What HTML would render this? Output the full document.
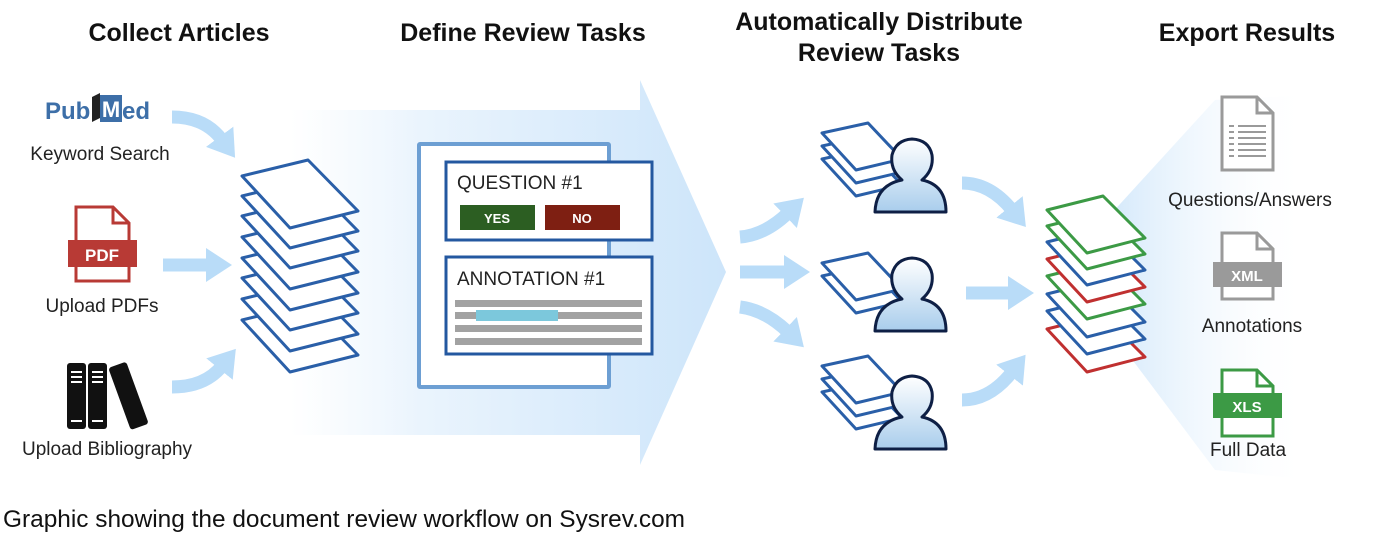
<!DOCTYPE html>
<html><head><meta charset="utf-8"><style>
html,body{margin:0;padding:0;background:#fff;}
svg{display:block;font-family:"Liberation Sans",Arial,sans-serif;}
</style></head><body>
<svg width="1396" height="549" viewBox="0 0 1396 549" xmlns="http://www.w3.org/2000/svg">
<defs>
<linearGradient id="big" x1="0" x2="1" y1="0" y2="0">
<stop offset="0" stop-color="#eef6fd" stop-opacity="0"/>
<stop offset="0.3" stop-color="#eaf4fd"/>
<stop offset="1" stop-color="#cde5fa"/>
</linearGradient>
<linearGradient id="fan" x1="0" x2="1" y1="0" y2="0">
<stop offset="0" stop-color="#cfe6fa"/>
<stop offset="1" stop-color="#ffffff" stop-opacity="0"/>
</linearGradient>
<linearGradient id="person" x1="0" x2="0" y1="0" y2="1">
<stop offset="0" stop-color="#ffffff"/>
<stop offset="1" stop-color="#a9cdec"/>
</linearGradient>
<marker id="ah" markerUnits="userSpaceOnUse" markerWidth="40" markerHeight="40" refX="4" refY="20" orient="auto">
<path d="M0,3 L26,20 L0,37 Z" fill="#b9dcf8"/>
</marker>
<path id="sheetL" d="M0,0 L66,-16 L116,35 L48,52 Z"/>
<path id="sheetS" d="M0,0 L46,-10 L80,26 L34,37 Z"/>
<path id="sheetR" d="M0,0 L56,-14 L98,28 L40,43 Z"/>
</defs>

<g font-weight="bold" font-size="25" fill="#111" text-anchor="middle">
<text x="179" y="41">Collect Articles</text>
<text x="523" y="41">Define Review Tasks</text>
<text x="879" y="30">Automatically Distribute</text>
<text x="879" y="61">Review Tasks</text>
<text x="1247" y="41">Export Results</text>
</g>

<path d="M290,110 L640,110 L640,80 L726,272 L640,465 L640,435 L290,435 Z" fill="url(#big)"/>

<path d="M1110,215 L1215,100 L1310,95 L1310,480 L1215,470 L1110,330 Z" fill="url(#fan)" opacity="0.9"/>

<g fill="none" stroke="#b9dcf8" stroke-width="13">
<path d="M172,117 Q205,117 222,140" marker-end="url(#ah)"/>
<path d="M163,265 L210,265" marker-end="url(#ah)"/>
<path d="M172,387 Q205,387 222,366" marker-end="url(#ah)"/>
<path d="M740,237 Q765,235 788,213" marker-end="url(#ah)"/>
<path d="M740,272 L788,272" marker-end="url(#ah)"/>
<path d="M740,307 Q765,310 788,332" marker-end="url(#ah)"/>
<path d="M962,183 Q990,183 1012,210" marker-end="url(#ah)"/>
<path d="M966,293 L1012,293" marker-end="url(#ah)"/>
<path d="M962,400 Q990,400 1012,372" marker-end="url(#ah)"/>
</g>

<!-- PubMed -->
<text x="45" y="119" font-size="24" font-weight="bold" fill="#3d6fa8">Pub</text>
<path d="M92,97 L100,93 L100,118 L92,122 Z" fill="#222"/>
<rect x="100" y="95" width="22" height="27" fill="#3d6fa8"/>
<text x="111" y="117" font-size="22" font-weight="bold" fill="#fff" text-anchor="middle">M</text>
<text x="122" y="119" font-size="24" font-weight="bold" fill="#3d6fa8">ed</text>
<text x="100" y="160" font-size="19" text-anchor="middle" fill="#222">Keyword Search</text>

<g>
<path d="M76,207 L113,207 L129,223 L129,281 L76,281 Z" fill="#fff" stroke="#b83a35" stroke-width="3"/>
<path d="M113,207 L113,223 L129,223" fill="none" stroke="#b83a35" stroke-width="3"/>
<rect x="68" y="240" width="69" height="27" fill="#b83a35"/>
<text x="102" y="261" font-size="17" font-weight="bold" fill="#fff" text-anchor="middle">PDF</text>
</g>
<text x="102" y="312" font-size="19" text-anchor="middle" fill="#222">Upload PDFs</text>

<g>
<rect x="67" y="363" width="19" height="66" rx="3" fill="#111"/>
<rect x="88" y="363" width="19" height="66" rx="3" fill="#111"/>
<rect x="119" y="363" width="19" height="66" rx="3" fill="#111" transform="rotate(-20 128 396)"/>
<g stroke="#fff" stroke-width="2">
<line x1="71" y1="372" x2="82" y2="372"/><line x1="71" y1="377" x2="82" y2="377"/><line x1="71" y1="382" x2="82" y2="382"/>
<line x1="92" y1="372" x2="103" y2="372"/><line x1="92" y1="377" x2="103" y2="377"/><line x1="92" y1="382" x2="103" y2="382"/>
<line x1="71" y1="421" x2="82" y2="421"/><line x1="92" y1="421" x2="103" y2="421"/>
</g>
</g>
<text x="107" y="455" font-size="19" text-anchor="middle" fill="#222">Upload Bibliography</text>

<g fill="#fff" stroke="#2a5fa8" stroke-width="3" stroke-linejoin="round">
<use href="#sheetL" transform="translate(242,320)"/>
<use href="#sheetL" transform="translate(242,299)"/>
<use href="#sheetL" transform="translate(242,278)"/>
<use href="#sheetL" transform="translate(242,258)"/>
<use href="#sheetL" transform="translate(242,237)"/>
<use href="#sheetL" transform="translate(242,216)"/>
<use href="#sheetL" transform="translate(242,196)"/>
<use href="#sheetL" transform="translate(242,176)"/>
</g>

<rect x="419" y="144" width="190" height="243" fill="#fff" stroke="#6d9fd3" stroke-width="4" rx="1"/>
<rect x="446" y="162" width="206" height="78" fill="#fff" stroke="#2458a0" stroke-width="3"/>
<text x="457" y="189" font-size="19" fill="#222">QUESTION #1</text>
<rect x="460" y="205" width="75" height="25" fill="#2c5e22"/>
<text x="497" y="223" font-size="13" font-weight="bold" fill="#fff" text-anchor="middle">YES</text>
<rect x="545" y="205" width="75" height="25" fill="#7e1f12"/>
<text x="582" y="223" font-size="13" font-weight="bold" fill="#fff" text-anchor="middle">NO</text>
<rect x="446" y="257" width="206" height="97" fill="#fff" stroke="#2458a0" stroke-width="3"/>
<text x="457" y="285" font-size="19" fill="#222">ANNOTATION #1</text>
<g fill="#a2a2a2">
<rect x="455" y="300" width="187" height="7"/>
<rect x="455" y="312" width="187" height="7"/>
<rect x="455" y="325" width="187" height="7"/>
<rect x="455" y="338" width="187" height="7"/>
</g>
<rect x="476" y="310" width="82" height="11" fill="#7cc8dc"/>

<g>
<g fill="#fff" stroke="#2a5fa8" stroke-width="3" stroke-linejoin="round">
<use href="#sheetS" transform="translate(822,159)"/>
<use href="#sheetS" transform="translate(822,146)"/>
<use href="#sheetS" transform="translate(822,133)"/>
</g>
<path d="M875,212 Q876,185 902,180 Q890,170 892,155 Q896,140 912,139 Q929,140 932,155 Q934,170 922,180 Q946,185 946,212 Z" fill="url(#person)" stroke="#0e1f45" stroke-width="3" stroke-linejoin="round"/>
</g>
<g>
<g fill="#fff" stroke="#2a5fa8" stroke-width="3" stroke-linejoin="round">
<use href="#sheetS" transform="translate(822,276)"/>
<use href="#sheetS" transform="translate(822,263)"/>
</g>
<path d="M875,331 Q876,304 902,299 Q890,289 892,274 Q896,259 912,258 Q929,259 932,274 Q934,289 922,299 Q946,304 946,331 Z" fill="url(#person)" stroke="#0e1f45" stroke-width="3" stroke-linejoin="round"/>
</g>
<g>
<g fill="#fff" stroke="#2a5fa8" stroke-width="3" stroke-linejoin="round">
<use href="#sheetS" transform="translate(822,392)"/>
<use href="#sheetS" transform="translate(822,379)"/>
<use href="#sheetS" transform="translate(822,366)"/>
</g>
<path d="M875,449 Q876,422 902,417 Q890,407 892,392 Q896,377 912,376 Q929,377 932,392 Q934,407 922,417 Q946,422 946,449 Z" fill="url(#person)" stroke="#0e1f45" stroke-width="3" stroke-linejoin="round"/>
</g>

<g fill="#fff" stroke-width="3" stroke-linejoin="round">
<use href="#sheetR" transform="translate(1047,329)" stroke="#c03030"/>
<use href="#sheetR" transform="translate(1047,311)" stroke="#2a5fa8"/>
<use href="#sheetR" transform="translate(1047,294)" stroke="#2a5fa8"/>
<use href="#sheetR" transform="translate(1047,276)" stroke="#3c9a45"/>
<use href="#sheetR" transform="translate(1047,259)" stroke="#c03030"/>
<use href="#sheetR" transform="translate(1047,242)" stroke="#2a5fa8"/>
<use href="#sheetR" transform="translate(1047,226)" stroke="#3c9a45"/>
<use href="#sheetR" transform="translate(1047,210)" stroke="#3c9a45"/>
</g>

<g fill="#fff" stroke="#9a9a9a" stroke-width="3">
<path d="M1222,97 L1257,97 L1273,113 L1273,170 L1222,170 Z"/>
<path d="M1257,97 L1257,113 L1273,113" fill="none"/>
</g>
<g stroke="#9a9a9a" stroke-width="2">
<line x1="1229" y1="126" x2="1234" y2="126"/><line x1="1238" y1="126" x2="1266" y2="126"/>
<line x1="1229" y1="132" x2="1234" y2="132"/><line x1="1238" y1="132" x2="1266" y2="132"/>
<line x1="1229" y1="138" x2="1234" y2="138"/><line x1="1238" y1="138" x2="1266" y2="138"/>
<line x1="1229" y1="144" x2="1234" y2="144"/><line x1="1238" y1="144" x2="1266" y2="144"/>
<line x1="1229" y1="150" x2="1234" y2="150"/><line x1="1238" y1="150" x2="1266" y2="150"/>
<line x1="1229" y1="156" x2="1234" y2="156"/><line x1="1238" y1="156" x2="1266" y2="156"/>
</g>
<text x="1250" y="206" font-size="19" text-anchor="middle" fill="#222">Questions/Answers</text>

<g fill="#fff" stroke="#9a9a9a" stroke-width="3">
<path d="M1222,233 L1257,233 L1273,249 L1273,299 L1222,299 Z"/>
<path d="M1257,233 L1257,249 L1273,249" fill="none"/>
</g>
<rect x="1213" y="262" width="69" height="25" fill="#9a9a9a"/>
<text x="1247" y="281" font-size="15" font-weight="bold" fill="#fff" text-anchor="middle">XML</text>
<text x="1252" y="332" font-size="19" text-anchor="middle" fill="#222">Annotations</text>

<g fill="#fff" stroke="#3c9a45" stroke-width="3">
<path d="M1222,370 L1257,370 L1273,386 L1273,436 L1222,436 Z"/>
<path d="M1257,370 L1257,386 L1273,386" fill="none"/>
</g>
<rect x="1213" y="393" width="69" height="25" fill="#3c9a45"/>
<text x="1247" y="412" font-size="15" font-weight="bold" fill="#fff" text-anchor="middle">XLS</text>
<text x="1248" y="456" font-size="19" text-anchor="middle" fill="#222">Full Data</text>

<text x="3" y="527" font-size="24" fill="#111" textLength="682" lengthAdjust="spacingAndGlyphs">Graphic showing the document review workflow on Sysrev.com</text>
</svg>
</body></html>
